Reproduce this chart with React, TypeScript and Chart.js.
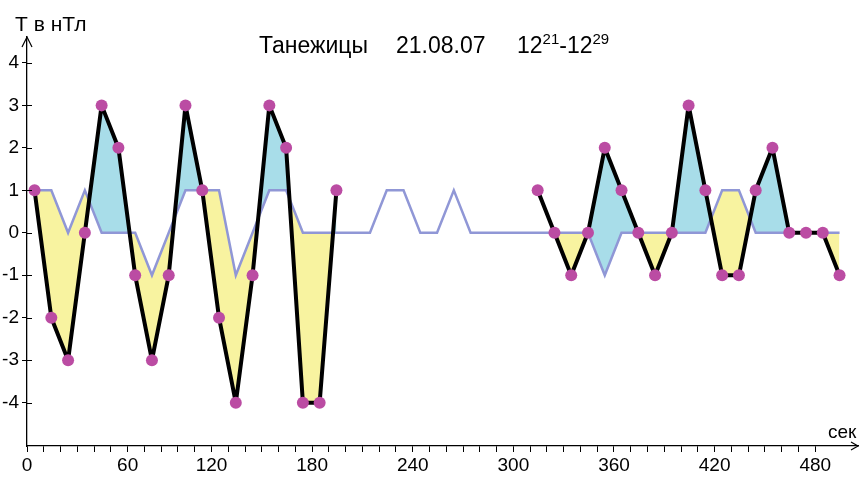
import React, { useEffect, useRef } from "react";
import { Chart, registerables } from "chart.js";

Chart.register(...registerables);

// sample times, seconds
const seconds = [
  0, 10, 20, 30, 40, 50, 60, 70, 80, 90,
  100, 110, 120, 130, 140, 150, 160, 170, 180, 190,
  200, 210, 220, 230, 240, 250, 260, 270, 280, 290,
  300, 310, 320, 330, 340, 350, 360, 370, 380, 390,
  400, 410, 420, 430, 440, 450, 460, 470, 480,
];

// measured field, nT (null = no data)
const measured: (number | null)[] = [
  1, -2, -3, 0, 3, 2, -1, -3, -1, 3,
  1, -2, -4, -1, 3, 2, -4, -4, 1, null,
  null, null, null, null, null, null, null, null, null, null,
  1, 0, -1, 0, 2, 1, 0, -1, 0, 3,
  1, -1, -1, 1, 2, 0, 0, 0, -1,
];

// reference (model) curve, nT
const model = [
  1, 1, 0, 1, 0, 0, 0, -1, 0, 1,
  1, 1, -1, 0, 1, 1, 0, 0, 0, 0,
  0, 1, 1, 0, 0, 1, 0, 0, 0, 0,
  0, 0, 0, 0, -1, 0, 0, 0, 0, 0,
  0, 1, 1, 0, 0, 0, 0, 0, 0,
];

// the shaded difference area starts one sample after the second record begins
const shadedFromIndex = [0, 31];
const shadedToIndex = [18, 48];

const yTicks = [4, 3, 2, 1, 0, -1, -2, -3, -4];
const xLabelTickIndex = [0, 6, 11, 17, 23, 29, 35, 41, 47];
const xLabels = ["0", "60", "120", "180", "240", "300", "360", "420", "480"];

const FONT = "'Liberation Sans', Arial, sans-serif";

const decor = {
  id: "decor",
  afterDraw(chart: any) {
    const { ctx, chartArea } = chart;
    const { left, right, top, bottom } = chartArea;
    const y = chart.scales.y;
    ctx.save();
    ctx.strokeStyle = "#000";
    ctx.lineWidth = 1.2;
    ctx.beginPath();
    ctx.moveTo(left - 5, top + 10);
    ctx.lineTo(left, top);
    ctx.lineTo(left + 5, top + 10);
    ctx.stroke();
    ctx.beginPath();
    ctx.moveTo(right - 7, bottom - 4);
    ctx.lineTo(right, bottom);
    ctx.lineTo(right - 7, bottom + 4);
    ctx.stroke();
    ctx.beginPath();
    for (const t of yTicks) {
      const py = Math.round(y.getPixelForValue(t)) + 0.5;
      ctx.moveTo(left, py);
      ctx.lineTo(left + 5, py);
    }
    ctx.stroke();

    ctx.fillStyle = "#000";
    ctx.textBaseline = "alphabetic";
    ctx.textAlign = "left";
    ctx.font = `21px ${FONT}`;
    ctx.fillText("Т в нТл", 15, 31);
    ctx.font = `19px ${FONT}`;
    ctx.fillText("сек", 828, 438);

    const by = 53;
    const big = `23px ${FONT}`;
    const small = `15px ${FONT}`;
    ctx.font = big;
    ctx.fillText("Танежицы", 259, by);
    ctx.fillText("21.08.07", 396, by);
    let x = 517;
    const parts: [string, boolean][] = [
      ["12", false],
      ["21", true],
      ["-12", false],
      ["29", true],
    ];
    for (const [s, sup] of parts) {
      ctx.font = sup ? small : big;
      ctx.fillText(s, x, sup ? by - 9 : by);
      x += ctx.measureText(s).width;
    }
    ctx.restore();
  },
};

export default function App() {
  const ref = useRef<HTMLCanvasElement | null>(null);
  useEffect(() => {
    if (!ref.current) return;
    const inShade = (i: number) =>
      shadedFromIndex.some((a, k) => i >= a && i <= shadedToIndex[k]);
    const chart = new Chart(ref.current, {
      type: "line",
      data: {
        datasets: [
          {
            data: seconds.map((s, i) => ({ x: s, y: measured[i] })),
            borderColor: "#000",
            borderWidth: 4,
            borderJoinStyle: "round",
            pointRadius: 6,
            pointBackgroundColor: "#bb4ca3",
            pointBorderWidth: 0,
            spanGaps: false,
            fill: false,
          } as any,
          {
            data: seconds.map((s, i) => ({ x: s, y: model[i] })),
            borderColor: "#9097d6",
            borderWidth: 2.5,
            pointRadius: 0,
            fill: false,
          },
          {
            data: seconds.map((s, i) => ({
              x: s,
              y: inShade(i) ? measured[i] : null,
            })),
            borderWidth: 0,
            borderColor: "rgba(0,0,0,0)",
            pointRadius: 0,
            spanGaps: false,
            fill: { target: 1, above: "#a8dde9", below: "#f8f3a0" },
          } as any,
        ],
      },
      options: {
        animation: false,
        responsive: false,
        devicePixelRatio: 1,
        events: [],
        layout: { padding: { top: 37, right: 1, left: 0, bottom: 0 } },
        plugins: {
          legend: { display: false },
          tooltip: { enabled: false },
          filler: { drawTime: "beforeDatasetsDraw" } as any,
        },
        scales: {
          x: {
            type: "linear",
            min: -4.5,
            max: 491,
            afterFit: (s: any) => {
              s.height = 31;
            },
            afterBuildTicks: (s: any) => {
              const ticks = [];
              for (let k = 0; k <= 47; k++) ticks.push({ value: -4.5 + 10 * k });
              s.ticks = ticks;
            },
            border: { display: true, color: "#000", width: 1.3 },
            grid: {
              display: true,
              drawOnChartArea: false,
              drawTicks: true,
              tickLength: 6,
              color: "#000",
              tickColor: "#000",
              lineWidth: 1,
            },
            ticks: {
              autoSkip: false,
              maxRotation: 0,
              minRotation: 0,
              padding: 2,
              color: "#000",
              font: { family: FONT, size: 19 },
              callback: (_v: any, index: number) => {
                const j = xLabelTickIndex.indexOf(index);
                return j >= 0 ? xLabels[j] : "";
              },
            },
          },
          y: {
            type: "linear",
            min: -5.02,
            max: 4.61,
            afterFit: (s: any) => {
              s.width = 27;
            },
            afterBuildTicks: (s: any) => {
              s.ticks = yTicks.map((v) => ({ value: v }));
            },
            border: { display: true, color: "#000", width: 1.3 },
            grid: {
              display: true,
              drawOnChartArea: false,
              drawTicks: true,
              tickLength: 5,
              color: "#000",
              tickColor: "#000",
              lineWidth: 1,
            },
            ticks: {
              padding: 3,
              color: "#000",
              font: { family: FONT, size: 19 },
              callback: (v: any) => String(v),
            },
          },
        },
      },
      plugins: [decor],
    });
    return () => chart.destroy();
  }, []);
  return (
    <div
      style={{
        position: "fixed",
        left: 0,
        top: 0,
        width: 864,
        height: 477,
        background: "#fff",
      }}
    >
      <canvas
        ref={ref}
        width={864}
        height={477}
        style={{ width: 864, height: 477, display: "block" }}
      />
    </div>
  );
}
